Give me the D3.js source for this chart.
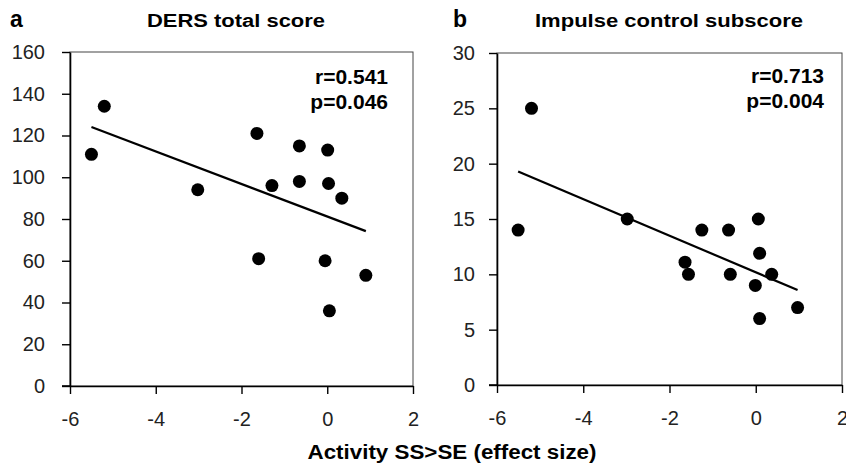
<!DOCTYPE html>
<html>
<head>
<meta charset="utf-8">
<script src="https://cdn.jsdelivr.net/npm/d3@7"></script>
<style>
  html, body { margin: 0; padding: 0; background: #fff; }
  svg { display: block; font-family: "Liberation Sans", Arial, sans-serif; }
</style>
</head>
<body>
<svg id="chart" width="846" height="471"></svg>
<script>
// 数据：两组散点（每组 14 个被试）
const activityA = [-5.50, -5.20, -3.02, -1.64, -1.29, -0.65, -0.65, 0.01, 0.03, 0.34, -1.60, -0.05, 0.90, 0.05];
const dersTotal = [111, 134, 94, 121, 96, 115, 98, 113, 97, 90, 61, 60, 53, 36];

const activityB = [-5.20, -5.51, -2.98, -1.25, -0.63, 0.06, -1.64, -1.56, -0.59, 0.09, -0.01, 0.37, 0.97, 0.09];
const impulseControl = [25, 14, 15, 14, 14, 15, 11.1, 10, 10, 11.9, 9, 10, 7, 6];

// 刻度
const xTicks = [-6, -4, -2, 0, 2];
const yTicksA = [0, 20, 40, 60, 80, 100, 120, 140, 160];
const yTicksB = [0, 5, 10, 15, 20, 25, 30];

// 文字
const panelLetters = ["a", "b"];
const panelTitles = ["DERS total score", "Impulse control subscore"];
const statsText = [["r=0.541", "p=0.046"], ["r=0.713", "p=0.004"]];
const xAxisTitle = "Activity SS>SE (effect size)";

const svg = d3.select("#chart");

// 每个面板的布局
const panels = [
  { xs: activityA, ys: dersTotal, yTicks: yTicksA, yMax: 160,
    left: 70, right: 413, top: 52, bottom: 386, pad: 17,
    letterX: 10, titleX: 236, titleLen: 178, statX: 388, statY: 84 },
  { xs: activityB, ys: impulseControl, yTicks: yTicksB, yMax: 30,
    left: 497, right: 842, top: 53, bottom: 385, pad: 14,
    letterX: 453, titleX: 669, titleLen: 268, statX: 824, statY: 83 }
];

// 刻度标签用普通连字符，与原图一致
const plainFormat = d => String(d);

panels.forEach((p, i) => {
  const x = d3.scaleLinear().domain([-6, 2]).range([p.left, p.right]);
  const y = d3.scaleLinear().domain([0, p.yMax]).range([p.bottom, p.top]);
  const g = svg.append("g");

  // 绘图区边框
  g.append("rect")
    .attr("x", p.left).attr("y", p.top)
    .attr("width", p.right - p.left).attr("height", p.bottom - p.top)
    .attr("fill", "none").attr("stroke", "#444").attr("stroke-width", 1);

  // y 轴
  const yAxis = g.append("g")
    .attr("transform", `translate(${p.left},0)`)
    .call(d3.axisLeft(y).tickValues(p.yTicks).tickFormat(plainFormat)
      .tickSize(8).tickSizeOuter(0).tickPadding(p.pad));

  // x 轴
  const xAxis = g.append("g")
    .attr("transform", `translate(0,${p.bottom})`)
    .call(d3.axisBottom(x).tickValues(xTicks).tickFormat(plainFormat)
      .tickSize(8).tickSizeOuter(0).tickPadding(18));

  [yAxis, xAxis].forEach(ax => {
    ax.select(".domain").attr("stroke", "#000").attr("stroke-width", 1.6);
    ax.selectAll(".tick line").attr("stroke", "#000").attr("stroke-width", 1.4);
    ax.selectAll(".tick text")
      .attr("font-size", 20)
      .attr("font-family", "'Liberation Sans', Arial, sans-serif")
      .attr("fill", "#222");
  });
  // x 轴 0 刻度左侧延伸到 y 轴刻度
  g.append("line")
    .attr("x1", p.left - 8).attr("x2", p.left)
    .attr("y1", p.bottom).attr("y2", p.bottom)
    .attr("stroke", "#000").attr("stroke-width", 1.6);

  // 线性回归线（最小二乘）
  const mx = d3.mean(p.xs), my = d3.mean(p.ys);
  const sxy = d3.sum(p.xs, (v, k) => (v - mx) * (p.ys[k] - my));
  const sxx = d3.sum(p.xs, v => (v - mx) * (v - mx));
  const slope = sxy / sxx;
  const [x0, x1] = d3.extent(p.xs);
  g.append("line")
    .attr("x1", x(x0)).attr("y1", y(my + slope * (x0 - mx)))
    .attr("x2", x(x1)).attr("y2", y(my + slope * (x1 - mx)))
    .attr("stroke", "#000").attr("stroke-width", 2.2);

  // 散点
  g.append("g")
    .selectAll("circle")
    .data(p.xs.map((v, k) => [v, p.ys[k]]))
    .join("circle")
    .attr("cx", d => x(d[0]))
    .attr("cy", d => y(d[1]))
    .attr("r", 6.5)
    .attr("fill", "#000");

  // 面板字母与标题
  g.append("text")
    .attr("x", p.letterX).attr("y", 27)
    .attr("font-size", 23).attr("font-weight", "bold")
    .text(panelLetters[i]);

  g.append("text")
    .attr("x", p.titleX).attr("y", 27)
    .attr("text-anchor", "middle")
    .attr("font-size", 18).attr("font-weight", "bold")
    .attr("textLength", p.titleLen).attr("lengthAdjust", "spacingAndGlyphs")
    .text(panelTitles[i]);

  // r / p 值
  statsText[i].forEach((t, k) => {
    g.append("text")
      .attr("x", p.statX).attr("y", p.statY + k * 25)
      .attr("text-anchor", "end")
      .attr("font-size", 21).attr("font-weight", "bold")
      .text(t);
  });
});

// 公共 x 轴标题
svg.append("text")
  .attr("x", 452).attr("y", 459)
  .attr("text-anchor", "middle")
  .attr("font-size", 20).attr("font-weight", "bold")
  .attr("textLength", 289).attr("lengthAdjust", "spacingAndGlyphs")
  .text(xAxisTitle);
</script>
</body>
</html>
